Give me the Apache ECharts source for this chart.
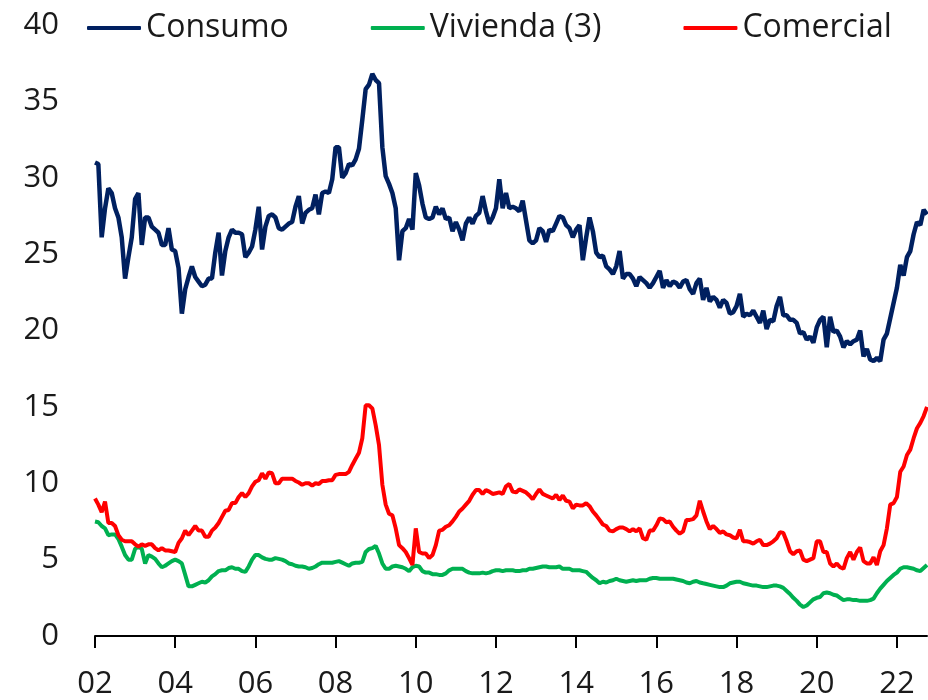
<!DOCTYPE html>
<html>
<head>
<meta charset="utf-8">
<script src="https://cdn.jsdelivr.net/npm/echarts@6/dist/echarts.min.js"></script>
<style>
  html, body { margin: 0; padding: 0; background: #fff; }
  #chart { width: 928px; height: 700px; }
</style>
</head>
<body>
<div id="chart"></div>
<script>
// mensual, ene-2002 en adelante
var consumo = [
  31.0, 30.9, 26.1, 28.0, 29.3, 29.0, 28.0, 27.4, 26.1, 23.4, 24.8, 26.1,
  28.6, 29.0, 25.6, 27.4, 27.4, 26.8, 26.6, 26.4, 25.6, 25.6, 26.7, 25.3,
  25.2, 24.1, 21.1, 22.7, 23.5, 24.2, 23.5, 23.2, 22.9, 23.0, 23.4, 23.4,
  25.1, 26.4, 23.6, 25.2, 26.1, 26.6, 26.4, 26.4, 26.3, 24.8, 25.1, 25.5,
  26.6, 28.1, 25.3, 26.8, 27.5, 27.6, 27.4, 26.7, 26.6, 26.8, 27.0, 27.1,
  28.1, 28.8, 27.0, 27.7, 27.9, 28.0, 28.9, 27.6, 29.0, 29.1, 29.0, 29.9,
  32.0, 32.0, 30.0, 30.3, 30.9, 30.8, 31.2, 31.9, 33.8, 35.8, 36.1, 36.8,
  36.4, 36.2, 32.0, 30.1, 29.6, 29.0, 28.0, 24.6, 26.5, 26.7, 27.3, 26.6,
  30.3, 29.5, 28.3, 27.4, 27.3, 27.4, 28.1, 27.6, 28.0, 27.3, 27.4, 26.5,
  27.1, 26.6, 25.9, 27.0, 27.4, 27.0, 27.5, 27.7, 28.8, 27.8, 27.0, 27.4,
  28.0, 29.9, 28.0, 29.0, 28.0, 28.1, 28.0, 27.8, 28.5, 27.2, 25.9, 25.7,
  25.9, 26.7, 26.5, 25.8, 26.6, 26.5, 27.0, 27.5, 27.4, 26.9, 26.7, 26.1,
  26.6, 26.9, 24.6, 26.1, 27.4, 26.5, 25.1, 24.8, 24.9, 24.2, 24.0, 23.7,
  24.2, 25.2, 23.4, 23.7, 23.7, 23.4, 22.9, 23.5, 23.3, 23.1, 22.8, 23.1,
  23.5, 23.9, 22.8, 23.3, 22.9, 23.2, 23.1, 22.8, 23.2, 23.3, 22.7, 22.4,
  23.1, 23.4, 22.0, 22.8, 21.9, 22.2, 22.0, 21.5, 22.0, 21.8, 21.1, 21.2,
  21.6, 22.4, 20.9, 21.1, 21.0, 21.3, 20.9, 20.5, 21.3, 20.1, 20.7, 20.6,
  21.6, 22.2, 21.0, 21.0, 20.7, 20.7, 20.5, 19.8, 19.9, 19.4, 19.6, 19.2,
  20.2, 20.7, 20.9, 18.9, 20.9, 19.9, 20.0, 19.6, 18.9, 19.3, 19.1, 19.3,
  19.4, 20.0, 18.3, 18.8, 18.1, 18.0, 18.2, 18.0, 19.4, 19.8, 20.8, 21.8,
  22.8, 24.3, 23.6, 24.8, 25.2, 26.3, 27.1, 26.9, 27.9, 27.6
];
var vivienda = [
  7.5, 7.45, 7.2, 7.05, 6.6, 6.65, 6.65, 6.35, 5.85, 5.3, 5.0, 5.0,
  5.7, 5.85, 5.7, 4.75, 5.3, 5.2, 5.05, 4.75, 4.5, 4.6, 4.75, 4.9,
  5.0, 4.9, 4.75, 4.0, 3.25, 3.25, 3.35, 3.45, 3.55, 3.5, 3.65, 3.9,
  4.05, 4.25, 4.3, 4.3, 4.45, 4.5, 4.4, 4.4, 4.25, 4.2, 4.55, 5.0,
  5.3, 5.3, 5.15, 5.05, 5.0, 5.0, 5.1, 5.05, 5.0, 4.9, 4.75, 4.7,
  4.6, 4.55, 4.55, 4.5, 4.4, 4.45, 4.55, 4.7, 4.8, 4.8, 4.8, 4.8,
  4.85, 4.9, 4.8, 4.7, 4.6, 4.75, 4.8, 4.8, 4.85, 5.5, 5.7, 5.75,
  5.9, 5.4, 4.75, 4.4, 4.4, 4.55, 4.6, 4.55, 4.5, 4.4, 4.25, 4.5,
  4.6, 4.55, 4.25, 4.15, 4.15, 4.05, 4.05, 4.0, 4.0, 4.1, 4.3, 4.4,
  4.4, 4.4, 4.4, 4.25, 4.15, 4.1, 4.1, 4.1, 4.15, 4.1, 4.15, 4.25,
  4.3, 4.3, 4.25, 4.3, 4.3, 4.3, 4.25, 4.25, 4.3, 4.3, 4.4, 4.4,
  4.45, 4.5, 4.55, 4.55, 4.5, 4.5, 4.5, 4.55, 4.4, 4.4, 4.4, 4.3,
  4.3, 4.3, 4.25, 4.2, 4.0, 3.8, 3.65, 3.45, 3.55, 3.5, 3.6, 3.65,
  3.75, 3.65, 3.6, 3.55, 3.6, 3.65, 3.6, 3.65, 3.65, 3.65, 3.75, 3.8,
  3.8, 3.75, 3.75, 3.75, 3.75, 3.75, 3.7, 3.65, 3.6, 3.5, 3.45, 3.55,
  3.6, 3.5, 3.45, 3.4, 3.35, 3.3, 3.25, 3.2, 3.2, 3.3, 3.45, 3.5,
  3.55, 3.55, 3.45, 3.4, 3.35, 3.3, 3.3, 3.25, 3.2, 3.2, 3.25, 3.3,
  3.3, 3.25, 3.15, 2.95, 2.75, 2.5, 2.3, 2.05, 1.9, 2.0, 2.2, 2.4,
  2.5, 2.55, 2.8, 2.85, 2.8, 2.7, 2.65, 2.5, 2.35, 2.4, 2.4, 2.35,
  2.35, 2.3, 2.3, 2.3, 2.35, 2.45, 2.8, 3.1, 3.35, 3.6, 3.8, 4.0,
  4.15, 4.4, 4.5, 4.5, 4.45, 4.4, 4.3, 4.25, 4.45, 4.65
];
var comercial = [
  9.0, 8.6, 8.1, 8.8, 7.4, 7.4, 7.2, 6.6, 6.3, 6.2, 6.2, 6.2,
  6.0, 5.85, 6.0, 5.9, 6.0, 6.0, 5.75, 5.6, 5.75, 5.6, 5.6, 5.55,
  5.5, 6.1, 6.4, 6.9, 6.6, 6.9, 7.2, 6.9, 6.9, 6.5, 6.5, 6.9,
  7.1, 7.4, 7.8, 8.2, 8.25, 8.7, 8.7, 9.1, 9.35, 9.1, 9.35, 9.8,
  10.1, 10.2, 10.65, 10.3, 10.7, 10.65, 10.0, 10.0, 10.3, 10.3, 10.3, 10.3,
  10.15, 10.05, 9.9, 10.0, 10.0, 9.85, 10.0, 9.95, 10.15, 10.15, 10.2, 10.2,
  10.55, 10.6, 10.6, 10.6, 10.75, 11.2, 11.6, 12.0, 12.95, 15.1, 15.1, 14.9,
  13.8, 12.5, 9.9, 8.6, 8.0, 7.9, 7.05, 5.95, 5.75, 5.5, 5.1, 4.65,
  7.05, 5.5, 5.4, 5.4, 5.1, 5.3, 5.95, 6.9, 6.95, 7.15, 7.25, 7.5,
  7.8, 8.15, 8.35, 8.6, 8.85, 9.25, 9.55, 9.55, 9.3, 9.55, 9.45, 9.3,
  9.35, 9.4, 9.3, 9.8, 9.95, 9.45, 9.4, 9.6, 9.5, 9.4, 9.2, 8.95,
  9.3, 9.6, 9.3, 9.2, 9.1, 9.0, 9.25, 8.9, 9.2, 8.85, 8.8, 8.35,
  8.6, 8.55, 8.55, 8.7, 8.5, 8.15, 7.9, 7.6, 7.3, 7.2, 6.9, 6.85,
  7.0, 7.1, 7.1, 7.0, 6.85, 7.0, 6.85, 7.05, 6.4, 6.3, 6.9, 6.9,
  7.25, 7.7, 7.65, 7.45, 7.5, 7.15, 6.9, 6.7, 6.85, 7.6, 7.6, 7.65,
  7.9, 8.85, 8.15, 7.5, 7.0, 7.2, 7.0, 6.75, 6.85, 6.65, 6.6, 6.45,
  6.4, 6.95, 6.2, 6.2, 6.15, 6.05, 6.2, 6.3, 5.95, 5.95, 6.05, 6.2,
  6.4, 6.8, 6.75, 6.2, 5.55, 5.35, 5.55, 5.6, 5.0, 4.9, 5.0, 5.1,
  6.2, 6.2, 5.5, 5.5, 4.75, 4.55, 4.75, 4.5, 4.4, 5.1, 5.5, 5.0,
  5.5, 5.8, 4.9, 4.75, 4.75, 5.15, 4.65, 5.55, 5.95, 7.05, 8.6, 8.7,
  9.1, 10.75, 11.1, 11.85, 12.2, 12.95, 13.6, 13.95, 14.4, 15.0
];
var yTicks = [0, 5, 10, 15, 20, 25, 30, 35, 40];

var meses = [];
for (var i = 0; i < consumo.length; i++) {
  var anio = 2002 + Math.floor(i / 12);
  var mes = (i % 12) + 1;
  meses.push(anio + '-' + (mes < 10 ? '0' + mes : mes));
}

var fuente = '"Open Sans", "Noto Sans", sans-serif';

var myChart = echarts.init(document.getElementById('chart'), null, { renderer: 'canvas' });
var option = {
  animation: false,
  backgroundColor: '#ffffff',
  legend: {
    left: 82,
    top: 6,
    itemWidth: 54,
    itemHeight: 4,
    itemGap: 82,
    icon: 'roundRect',
    textStyle: { fontFamily: fuente, fontSize: 32, color: '#1a1a1a', lineHeight: 34 },
    data: ['Consumo', 'Vivienda (3)', 'Comercial']
  },
  grid: {
    left: 95,
    right: 1,
    top: 25,
    bottom: 64
  },
  xAxis: {
    type: 'category',
    data: meses,
    boundaryGap: false,
    axisLine: { lineStyle: { color: '#000000', width: 2 } },
    axisTick: {
      show: true,
      length: 12,
      interval: function (idx) { return idx % 24 === 0; },
      lineStyle: { color: '#000000', width: 2 }
    },
    axisLabel: {
      interval: function (idx) { return idx % 24 === 0; },
      margin: 33,
      fontFamily: fuente,
      fontSize: 31,
      color: '#1a1a1a',
      formatter: function (v) { return v.slice(2, 4); }
    },
    splitLine: { show: false }
  },
  yAxis: {
    type: 'value',
    min: yTicks[0],
    max: yTicks[yTicks.length - 1],
    interval: 5,
    axisLine: { show: false },
    axisTick: { show: false },
    splitLine: { show: false },
    axisLabel: {
      margin: 36,
      fontFamily: fuente,
      fontSize: 31,
      color: '#1a1a1a'
    }
  },
  series: [
    {
      name: 'Consumo',
      type: 'line',
      data: consumo,
      showSymbol: false,
      symbol: 'none',
      color: '#002060',
      lineStyle: { color: '#002060', width: 4.5 }
    },
    {
      name: 'Vivienda (3)',
      type: 'line',
      data: vivienda,
      showSymbol: false,
      symbol: 'none',
      color: '#00B050',
      lineStyle: { color: '#00B050', width: 4 }
    },
    {
      name: 'Comercial',
      type: 'line',
      data: comercial,
      showSymbol: false,
      symbol: 'none',
      color: '#FF0000',
      lineStyle: { color: '#FF0000', width: 4 }
    }
  ]
};
myChart.setOption(option);
window.addEventListener('resize', function () { myChart.resize(); });
</script>
</body>
</html>
